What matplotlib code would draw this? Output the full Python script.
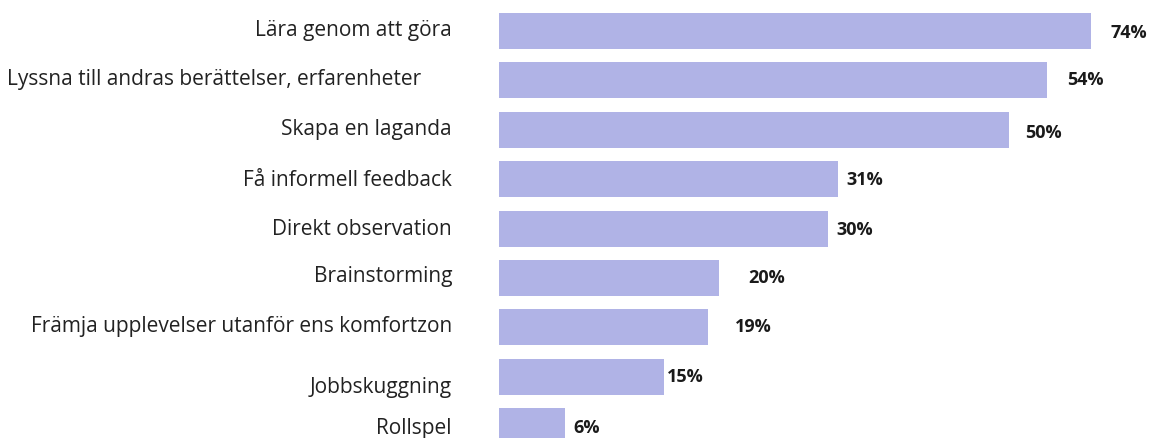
import matplotlib
matplotlib.use("Agg")
import matplotlib.pyplot as plt

categories = [
    "Lära genom att göra",
    "Lyssna till andras berättelser, erfarenheter",
    "Skapa en laganda",
    "Få informell feedback",
    "Direkt observation",
    "Brainstorming",
    "Främja upplevelser utanför ens komfortzon",
    "Jobbskuggning",
    "Rollspel",
]
value_labels = ["74%", "54%", "50%", "31%", "30%", "20%", "19%", "15%", "6%"]
# bar lengths as drawn in the picture (axis units)
bar_lengths = [53.8, 49.8, 46.4, 30.8, 29.9, 20.0, 19.0, 15.0, 6.0]

# layout helpers (pixels)
W, H = 1150, 439
PX_PER_UNIT = 11.0
X0 = 499
label_gap = [20, 20, 16, 9, 8, 29, 27, 3, 8]       # gap between bar end and value label
label_dy = [1, -1, 2, 0, 1, -1, -1, -1, 1]          # vertical nudge of value labels
cat_dy = [-1, -2, -1, 0, 0, -2, -2, 10, 2]           # vertical nudge of category labels

fig = plt.figure(figsize=(W / 100, H / 100), dpi=100)
ax = fig.add_axes([0, 0, 1, 1])
ax.set_axis_off()

y0, step = 32, 49.375
ax.set_xlim(-X0 / PX_PER_UNIT, (W - X0) / PX_PER_UNIT)
ax.set_ylim(8 + (H - (y0 + 8 * step)) / step, -y0 / step)

ypos = list(range(len(categories)))
ax.barh(ypos, bar_lengths, height=36 / step, color="#b0b3e6", edgecolor="none")

FONT = ["Open Sans", "DejaVu Sans"]
for i, (cat, lab, L) in enumerate(zip(categories, value_labels, bar_lengths)):
    ax.text(L + label_gap[i] / PX_PER_UNIT, i + label_dy[i] / step, lab,
            ha="left", va="center", fontsize=13, fontweight="bold",
            fontstretch="normal", color="#1a1a1a", family=FONT)
    if i == 1:
        xr = (421 - X0) / PX_PER_UNIT
    else:
        xr = (452 - X0) / PX_PER_UNIT
    ax.text(xr, i + cat_dy[i] / step, cat, ha="right", va="center",
            fontsize=15, color="#222222", family=FONT)

fig.savefig("out.png", dpi=100)
